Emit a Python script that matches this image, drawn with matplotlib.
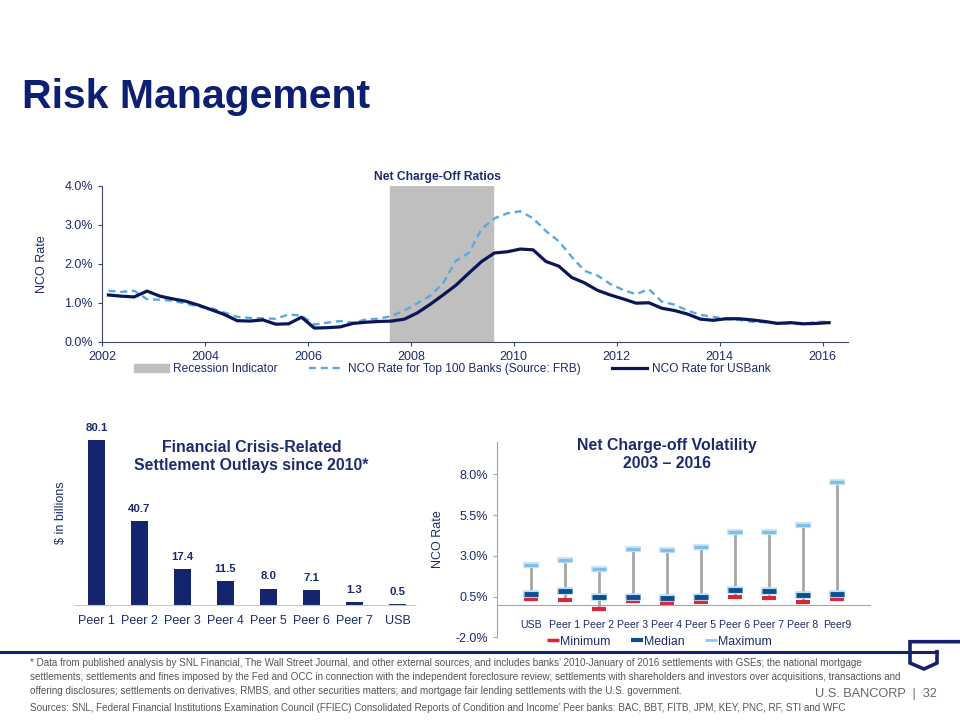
import numpy as np
import matplotlib
matplotlib.use("Agg")
import matplotlib.pyplot as plt
from matplotlib.lines import Line2D
from matplotlib.patches import Patch

plt.rcParams['font.family'] = ['Liberation Sans', 'DejaVu Sans']

NAVY = '#15226b'
TEXT = '#1c2a6e'
LIGHT = '#5aa9de'
GRAY_TXT = '#555555'

# ---- data: quarterly NCO rates 2002Q1 .. 2016Q1 (%)
start_year = 2002
usb_nco = [1.20, 1.17, 1.15, 1.30, 1.17, 1.10, 1.04, 0.94,
           0.82, 0.70, 0.54, 0.53, 0.56, 0.45, 0.46, 0.63,
           0.35, 0.36, 0.38, 0.47, 0.50, 0.52, 0.53, 0.58,
           0.74, 0.96, 1.20, 1.45, 1.76, 2.06, 2.28, 2.31,
           2.38, 2.36, 2.06, 1.94, 1.65, 1.51, 1.32, 1.20,
           1.10, 0.99, 1.00, 0.86, 0.80, 0.71, 0.58, 0.55,
           0.59, 0.59, 0.56, 0.52, 0.47, 0.49, 0.46, 0.47,
           0.49]
top100_nco = [1.31, 1.28, 1.31, 1.09, 1.08, 1.05, 0.98, 0.90,
              0.86, 0.75, 0.64, 0.61, 0.60, 0.59, 0.70, 0.67,
              0.44, 0.49, 0.53, 0.49, 0.57, 0.59, 0.66, 0.80,
              0.99, 1.18, 1.50, 2.08, 2.28, 2.90, 3.17, 3.30,
              3.35, 3.17, 2.84, 2.58, 2.18, 1.82, 1.70, 1.48,
              1.33, 1.22, 1.35, 1.03, 0.95, 0.80, 0.69, 0.64,
              0.58, 0.56, 0.51, 0.50, 0.47, 0.47, 0.45, 0.51,
              0.51]
recession = (2007.6, 2009.6)

# ---- settlement outlays ($bn)
settle_names = ['Peer 1', 'Peer 2', 'Peer 3', 'Peer 4', 'Peer 5', 'Peer 6', 'Peer 7', 'USB']
settle_vals = [80.1, 40.7, 17.4, 11.5, 8.0, 7.1, 1.3, 0.5]

# ---- NCO volatility 2003-2016 (%)
vol_names = ['USB', 'Peer 1', 'Peer 2', 'Peer 3', 'Peer 4', 'Peer 5', 'Peer 6', 'Peer 7', 'Peer 8', 'Peer9']
vol_min = [0.34, 0.30, -0.27, 0.25, 0.11, 0.19, 0.50, 0.44, 0.19, 0.36]
vol_med = [0.67, 0.87, 0.46, 0.50, 0.42, 0.46, 0.93, 0.86, 0.60, 0.67]
vol_max = [2.45, 2.75, 2.20, 3.43, 3.37, 3.55, 4.47, 4.44, 4.91, 7.53]

fig = plt.figure(figsize=(9.6, 7.2), dpi=100)

fig.text(0.023, 0.85, 'Risk Management', fontsize=29.5, fontweight='bold', color='#0c1f72')

# ---------- top line chart
ax1 = fig.add_axes([0.10625, 0.5254, 0.7775, 0.2163])
qx = start_year + 0.125 + 0.25 * np.arange(len(usb_nco))
ax1.axvspan(recession[0], recession[1], ymax=1.0, color='#bfbfbf', zorder=1)
ax1.plot(qx, top100_nco, color=LIGHT, lw=1.7, ls=(0, (3, 2)), zorder=2)
ax1.plot(qx, usb_nco, color='#0b1657', lw=2.3, zorder=3)
ax1.set_xlim(2002, 2016.5)
ax1.set_ylim(0, 4.0)
ax1.set_xticks(range(2002, 2017, 2))
ax1.set_yticks([0, 1, 2, 3, 4])
ax1.set_yticklabels(['0.0%', '1.0%', '2.0%', '3.0%', '4.0%'])
ax1.tick_params(colors='#3b4570', labelcolor=TEXT, labelsize=9, length=3)
for s in ['top', 'right']:
    ax1.spines[s].set_visible(False)
for s in ['left', 'bottom']:
    ax1.spines[s].set_color('#3b4570')
ax1.set_ylabel('NCO Rate', color=TEXT, fontsize=9, labelpad=12)
ax1.set_title('Net Charge-Off Ratios', color=TEXT, fontsize=8.7, fontweight='bold',
              x=0.45, pad=4)
handles = [Patch(color='#bfbfbf'),
           Line2D([], [], color=LIGHT, lw=1.7, ls=(0, (3, 2))),
           Line2D([], [], color='#0b1657', lw=2.3)]
labels = ['Recession Indicator', 'NCO Rate for Top 100 Banks (Source: FRB)', 'NCO Rate for USBank']
fig.legend(handles, labels, loc='center', bbox_to_anchor=(0.471, 0.487), ncol=3, frameon=False,
           fontsize=8.6, labelcolor=TEXT, handlelength=2.9, handleheight=0.6,
           columnspacing=2.6, handletextpad=0.4)

# ---------- bar chart
ax2 = fig.add_axes([0.078, 0.1597, 0.354, 0.2575])
bx = np.arange(len(settle_vals))
ax2.bar(bx, settle_vals, width=0.39, color='#14246e')
for x, v in zip(bx, settle_vals):
    ax2.text(x, v + 3.5, f'{v:.1f}', ha='center', va='bottom', fontsize=8.2,
             fontweight='bold', color=TEXT)
ax2.set_xlim(-0.5, 7.4)
ax2.set_ylim(0, 90)
ax2.set_xticks(bx)
ax2.set_xticklabels(settle_names)
ax2.set_yticks([])
ax2.tick_params(axis='x', length=0, labelsize=9, labelcolor=TEXT, pad=7)
for s in ['top', 'right', 'left']:
    ax2.spines[s].set_visible(False)
ax2.spines['bottom'].set_color('#c8c8c8')
ax2.set_ylabel('$ in billions', color=TEXT, fontsize=9, labelpad=6)
ax2.text(0.52, 0.80, 'Financial Crisis-Related\nSettlement Outlays since 2010*',
         transform=ax2.transAxes, ha='center', va='center', fontsize=11.4,
         fontweight='bold', color=TEXT, linespacing=1.2)

# ---------- volatility chart
ax3 = fig.add_axes([0.5177, 0.1149, 0.3885, 0.2716])
vx = np.arange(len(vol_names))
ax3.vlines(vx, vol_min, vol_max, color='#a6a6a6', lw=2, zorder=1)
ax3.plot(vx, vol_max, ls='none', marker='_', ms=11, mew=4.5, color='#cfe8f7', zorder=2)
ax3.plot(vx, vol_max, ls='none', marker='_', ms=10, mew=2.5, color='#7fc0e8', zorder=3)
ax3.plot(vx, vol_min, ls='none', marker='_', ms=10, mew=3, color='#d7263d', zorder=2)
ax3.plot(vx, vol_med, ls='none', marker='_', ms=12, mew=5.5, color='#bfe0f5', zorder=4)
ax3.plot(vx, vol_med, ls='none', marker='_', ms=10.5, mew=3.5, color='#0b4f8f', zorder=5)
ax3.set_xlim(-1, 9.97)
ax3.set_ylim(-2, 10)
ax3.set_yticks([-2, 0.5, 3, 5.5, 8])
ax3.set_yticklabels(['-2.0%', '0.5%', '3.0%', '5.5%', '8.0%'])
ax3.set_xticks(vx)
ax3.set_xticklabels(vol_names)
ax3.spines['bottom'].set_position(('data', 0))
ax3.spines['bottom'].set_color('#a6a6a6')
ax3.spines['left'].set_color('#a6a6a6')
for s in ['top', 'right']:
    ax3.spines[s].set_visible(False)
ax3.tick_params(axis='x', length=0, labelsize=7.6, labelcolor=TEXT, pad=11)
ax3.tick_params(axis='y', length=3, colors='#a6a6a6', labelcolor=TEXT, labelsize=9)
ax3.set_ylabel('NCO Rate', color=TEXT, fontsize=9, labelpad=8)
ax3.text(0.456, 0.935, 'Net Charge-off Volatility\n2003 \u2013 2016', transform=ax3.transAxes,
         ha='center', va='center', fontsize=11.4, fontweight='bold', color=TEXT,
         linespacing=1.2)
vh = [Line2D([], [], ls='none', marker='_', ms=8, mew=2.5, color='#d7263d'),
      Line2D([], [], ls='none', marker='_', ms=8, mew=3, color='#0b4f8f'),
      Line2D([], [], ls='none', marker='_', ms=8, mew=2, color='#8ec9ea')]
fig.legend(vh, ['Minimum', 'Median', 'Maximum'], loc='center', bbox_to_anchor=(0.688, 0.109),
           ncol=3, frameon=False, fontsize=8.9, labelcolor=TEXT, handlelength=0.6,
           handletextpad=0.3, columnspacing=1.8)

# ---------- footer line and logo
def fy(p):
    return 1 - p / 720.0

fig.add_artist(Line2D([0, 937 / 960], [fy(651.7), fy(651.7)], color=NAVY, lw=2.2))
fig.add_artist(Line2D(np.array([960, 910, 910, 924, 937, 937]) / 960,
                      [fy(641.7), fy(641.7), fy(663), fy(669), fy(663), fy(651.7)],
                      color=NAVY, lw=2.6, solid_joinstyle='miter'))

foot = ["* Data from published analysis by SNL Financial, The Wall Street Journal, and other external sources, and includes banks\u2019 2010-January of 2016 settlements with GSEs; the national mortgage",
        "settlements; settlements and fines imposed by the Fed and OCC in connection with the independent foreclosure review; settlements with shareholders and investors over acquisitions, transactions and",
        "offering disclosures; settlements on derivatives, RMBS, and other securities matters; and mortgage fair lending settlements with the U.S. government."]
for i, line in enumerate(foot):
    fig.text(0.031, fy(663 + 14 * i), line, fontsize=7.1, color=GRAY_TXT, va='center')
fig.text(0.031, fy(708), "Sources: SNL, Federal Financial Institutions Examination Council (FFIEC) Consolidated Reports of Condition and Income\u2019 Peer banks: BAC, BBT, FITB, JPM, KEY, PNC, RF, STI and WFC",
         fontsize=7.1, color=GRAY_TXT, va='center')
fig.text(0.976, fy(694), 'U.S. BANCORP  |  32', fontsize=9.2, color='#666666', ha='right',
         va='center')

fig.savefig('out.png', dpi=100, facecolor='white')
